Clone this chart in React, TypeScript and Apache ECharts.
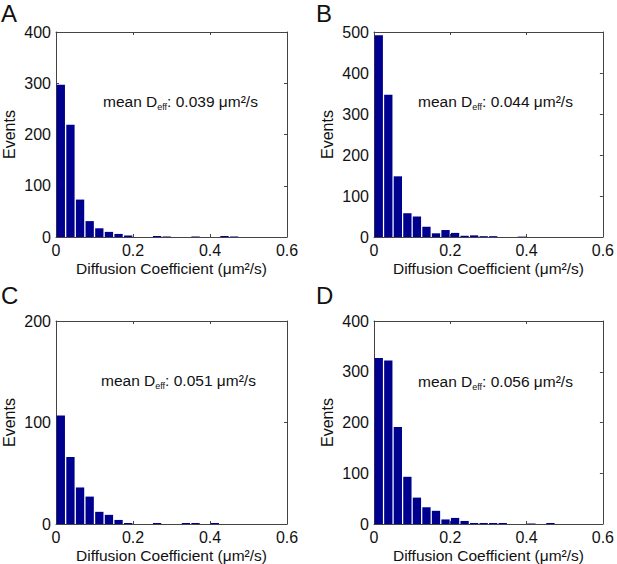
import React, { useEffect, useRef } from "react";
import * as echarts from "echarts";

// Histogram bin centres (µm²/s), bin width 0.025
const binCenters = [
  0.0125, 0.0375, 0.0625, 0.0875, 0.1125, 0.1375, 0.1625, 0.1875, 0.2125, 0.2375,
  0.2625, 0.2875, 0.3125, 0.3375, 0.3625, 0.3875, 0.4125, 0.4375, 0.4625,
];

const eventsA = [297, 219, 73, 31, 17, 10, 6, 3, 0, 0, 2, 1, 0, 0, 1, 0, 0, 2, 1];
const eventsB = [492, 347, 148, 58, 50, 25, 9, 17, 10, 3, 4, 2, 2, 0, 0, 1, 0, 0, 0];
const eventsC = [107, 66, 36, 27, 12, 9, 4, 1, 0, 0, 1, 0, 0, 1, 1, 0, 1, 0, 0];
const eventsD = [327, 322, 191, 93, 52, 33, 26, 9, 12, 6, 2, 2, 2, 2, 0, 0, 1, 0, 2];

const panelLetters = ["A", "B", "C", "D"];
const meanValues = ["0.039", "0.044", "0.051", "0.056"];
const yMaxes = [400, 500, 200, 400];
const xTickMax = 0.6;

const FONT = "'Liberation Sans', Arial, Helvetica, sans-serif";
const AXIS_COLOR = "#444";
const BAR_COLOR = "#00008F";

const grids = [
  { left: 55, top: 32, width: 232, height: 205 },
  { left: 374, top: 32, width: 231, height: 205 },
  { left: 56, top: 321, width: 231, height: 204 },
  { left: 374, top: 321, width: 231, height: 204 },
];
const letterPos = [
  { x: 1, y: 1 },
  { x: 316, y: 1 },
  { x: 1, y: 283 },
  { x: 316, y: 283 },
];
const meanPos = [
  { x: 103, y: 93 },
  { x: 418, y: 93 },
  { x: 101, y: 372 },
  { x: 418, y: 373 },
];

export default function App() {
  const ref = useRef<HTMLDivElement>(null);

  useEffect(() => {
    if (!ref.current) return;
    const chart = echarts.init(ref.current, undefined, { renderer: "svg" });
    const allEvents = [eventsA, eventsB, eventsC, eventsD];

    const xAxes: any[] = [];
    const yAxes: any[] = [];
    const series: any[] = [];
    const graphics: any[] = [];

    allEvents.forEach((events, i) => {
      const common = {
        gridIndex: i,
        type: "value",
        min: 0,
        axisLine: { show: true, onZero: false, lineStyle: { color: AXIS_COLOR, width: 1 } },
        axisTick: { show: true, inside: true, length: 3, lineStyle: { color: AXIS_COLOR } },
        splitLine: { show: false },
      };
      xAxes.push({
        ...common,
        position: "bottom",
        max: xTickMax,
        interval: 0.2,
        axisLabel: {
          show: true,
          margin: 5,
          fontSize: 16,
          color: "#111",
          fontFamily: FONT,
          showMinLabel: true,
          showMaxLabel: true,
        },
        name: "Diffusion Coefficient (\u03bcm\u00b2/s)",
        nameLocation: "middle",
        nameGap: 23,
        nameTextStyle: { fontSize: 15.5, color: "#111", fontFamily: FONT },
      });
      xAxes.push({
        ...common,
        position: "top",
        max: xTickMax,
        interval: 0.2,
        axisLabel: { show: false },
      });
      yAxes.push({
        ...common,
        position: "left",
        max: yMaxes[i],
        interval: 100,
        axisLabel: {
          show: true,
          margin: 5,
          fontSize: 16,
          color: "#111",
          fontFamily: FONT,
          showMinLabel: true,
          showMaxLabel: true,
        },
        name: "Events",
        nameLocation: "middle",
        nameRotate: 90,
        nameGap: 39,
        nameTextStyle: { fontSize: 16, color: "#111", fontFamily: FONT },
      });
      yAxes.push({
        ...common,
        position: "right",
        max: yMaxes[i],
        interval: 100,
        axisLabel: { show: false },
      });

      series.push({
        type: "bar",
        xAxisIndex: i * 2,
        yAxisIndex: i * 2,
        barWidth: 8.3,
        itemStyle: { color: BAR_COLOR },
        data: binCenters.map((c, k) => [c, events[k]]),
      });

      graphics.push({
        type: "text",
        left: letterPos[i].x,
        top: letterPos[i].y,
        style: {
          text: panelLetters[i],
          fontSize: 24,
          fontFamily: FONT,
          fill: "#111",
        },
      });
      graphics.push({
        type: "text",
        left: meanPos[i].x,
        top: meanPos[i].y,
        style: {
          text: `{m|mean D}{s|eff}{m|: ${meanValues[i]} \u03bcm\u00b2/s}`,
          rich: {
            m: { fontSize: 15.5, fontFamily: FONT, fill: "#111", lineHeight: 21 },
            s: {
              fontSize: 9,
              fontFamily: FONT,
              fill: "#111",
              lineHeight: 9,
              verticalAlign: "bottom",
            },
          },
        },
      });
    });

    chart.setOption({
      animation: false,
      backgroundColor: "#fff",
      grid: grids.map((g) => ({ ...g, show: false, containLabel: false })),
      xAxis: xAxes,
      yAxis: yAxes,
      series,
      graphic: graphics,
    });

    return () => chart.dispose();
  }, []);

  return (
    <div
      ref={ref}
      style={{ position: "absolute", left: 0, top: 0, width: 617, height: 564 }}
    />
  );
}
